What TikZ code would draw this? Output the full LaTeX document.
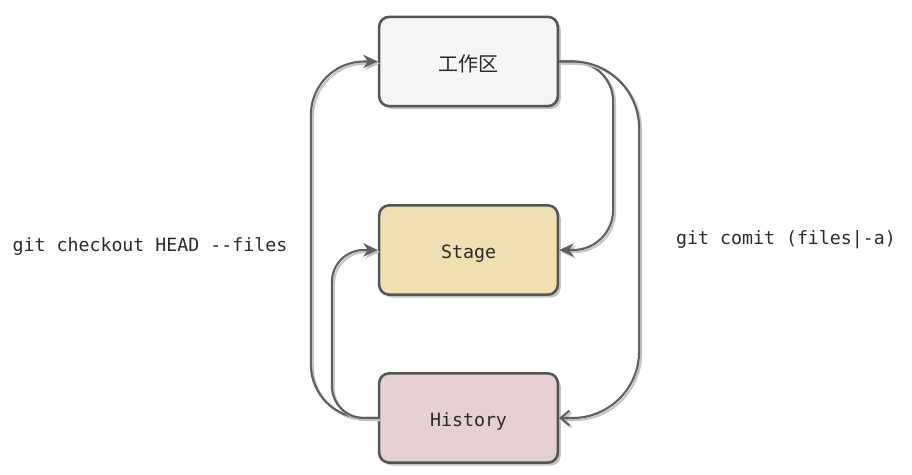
\documentclass[tikz,border=0pt]{standalone}
\usepackage{fontspec}
\setmonofont{DejaVu Sans Mono}
\newfontfamily\cjk{Noto Sans CJK SC}
\usetikzlibrary{arrows.meta,shadows}
\definecolor{boxline}{HTML}{555555}
\definecolor{arrline}{HTML}{606060}
\definecolor{shade}{HTML}{C4C4C4}
\definecolor{workfill}{HTML}{F5F5F5}
\definecolor{stagefill}{HTML}{F0DFB0}
\definecolor{histfill}{HTML}{E5D0D3}
\definecolor{txt}{HTML}{2B2B2B}
\begin{document}
\begin{tikzpicture}[x=0.75pt,y=-0.75pt,
  area/.style={draw=boxline, line width=1.9pt, rounded corners=7.5pt, minimum width=134pt, minimum height=67pt, text height=15pt, text depth=3pt, text=txt, font=\ttfamily\fontsize{13.7}{16}\selectfont, drop shadow={shadow xshift=2.2pt, shadow yshift=-2.2pt, fill=shade, opacity=1}},
  flow/.style={draw=arrline, line width=1.6pt, preaction={draw=shade, line width=1.6pt, transform canvas={shift={(1.5pt,-1.5pt)}}}},
  tip/.style={-{Stealth[length=11pt,width=10pt,inset=3.5pt]}},
  barb/.style={-{Straight Barb[length=6.5pt,width=11pt]}},
  cmd/.style={text=txt, font=\ttfamily\fontsize{13.7}{16}\selectfont}]
\useasboundingbox (0,0) rectangle (912,474);
\node[area, fill=workfill, text height=17.5pt, text depth=2pt, font=\cjk\fontsize{15}{18}\selectfont] (work) at (468.5,61.5) {工作区};
\node[area, fill=stagefill] (stage) at (468.5,250) {Stage};
\node[area, fill=histfill] (hist) at (468.5,418) {History};
\draw[flow, tip, rounded corners=40pt] (hist.west) -- ++(-67,0) |- (work.west);
\draw[flow, tip, rounded corners=24pt] (hist.west) -- ++(-46,0) |- (stage.west);
\draw[flow, tip, rounded corners=30pt] (work.east) -- ++(54,0) |- (stage.east);
\draw[flow, barb, rounded corners=50pt] (work.east) -- ++(80,0) |- (hist.east);
\node[cmd] (checkout) at (150,246) {git checkout HEAD -{}-files};
\node[cmd] (commit) at (786,240) {git comit (files|-a)};
\end{tikzpicture}
\end{document}
